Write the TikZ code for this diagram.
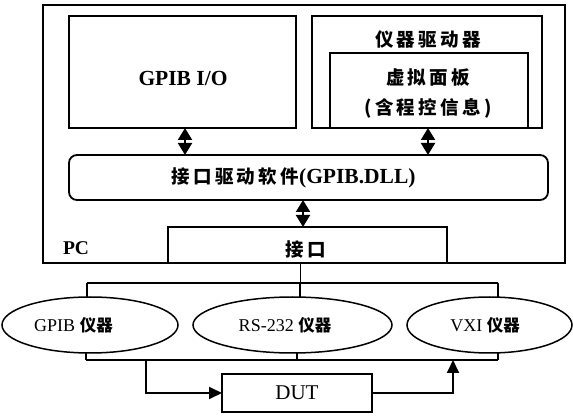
\documentclass[tikz,border=0pt]{standalone}
\usepackage{fontspec}
\setmainfont{Liberation Serif}
\newfontfamily\cjk[LetterSpace=18]{Noto Sans CJK SC}
\newfontfamily\cjks{Noto Sans CJK SC}
\usetikzlibrary{arrows.meta,shapes.geometric}
\begin{document}
\begin{tikzpicture}[x=1pt,y=-1pt,
  box/.style={draw,line width=1.8pt,inner sep=0pt,outer sep=0pt},
  ell/.style={ellipse,draw,line width=1.5pt,inner sep=0pt,outer sep=0pt,minimum height=56pt},
  txt/.style={inner sep=0pt,outer sep=0pt},
  big/.style={font=\fontsize{21.5}{21.5}\selectfont},
  mid/.style={font=\fontsize{18}{18}\selectfont},
  ctx/.style={font=\cjk\bfseries\fontsize{18.5}{18.5}\selectfont},
  dbl/.style={line width=2pt,{Triangle[length=12pt,width=14pt]}-{Triangle[length=12pt,width=14pt]}},
  wire/.style={line width=1.8pt},
  arr/.style={line width=1.8pt,-{Triangle[length=13pt,width=12pt]}}]
\useasboundingbox (0,0) rectangle (573,419);
% PC frame
\node[box,minimum width=522pt,minimum height=258pt] (pc) at (304,134) {};
\node[txt,font=\fontsize{19.5}{19.5}\selectfont] (pct) at (76,248) {\bfseries PC};
% GPIB I/O
\node[box,minimum width=227pt,minimum height=112pt] (gio) at (182.5,72) {};
\node[txt,big] (giot) at (183,78) {\bfseries GPIB I/O};
% instrument driver
\node[box,minimum width=230pt,minimum height=112pt] (drv) at (427,72) {};
\node[txt,ctx] (drvt) at (428,40) {仪器驱动器};
\node[box,minimum width=198pt,minimum height=75pt] (vp) at (429,90.5) {};
\node[txt,ctx] (vpt1) at (428,78) {虚拟面板};
\node[txt,ctx] (vpt2) at (428,108) {(含程控信息)};
% software driver
\node[box,rounded corners=8pt,minimum width=479pt,minimum height=45pt] (sw) at (308.5,177.5) {};
\node[txt,big] (swt) at (293.5,178) {{\cjk\bfseries\fontsize{18.5}{18.5}\selectfont 接口驱动软件}\bfseries(GPIB.DLL)};
% interface
\node[box,minimum width=279pt,minimum height=36pt] (intf) at (307.5,245) {};
\node[txt,ctx] (intft) at (306,250) {接口};
% double arrows
\coordinate (a1) at (185,0);
\coordinate (a2) at (428,0);
\coordinate (a3) at (303,0);
\draw[dbl] (a1 |- gio.south) -- (a1 |- sw.north);
\draw[dbl] (a2 |- vp.south) -- (a2 |- sw.north);
\draw[dbl] (a3 |- sw.south) -- (a3 |- intf.north);
% instruments
\node[ell,minimum width=176pt] (g) at (90,325) {};
\node[txt,mid] (gt) at (73.5,325) {GPIB {\cjks\bfseries\fontsize{16.5}{16.5}\selectfont 仪器}};
\node[ell,minimum width=199pt] (r) at (292.5,325) {};
\node[txt,mid] (rt) at (285,325) {RS-232 {\cjks\bfseries\fontsize{16.5}{16.5}\selectfont 仪器}};
\node[ell,minimum width=165pt] (v) at (489.5,325) {};
\node[txt,mid] (vt) at (485,325) {VXI {\cjks\bfseries\fontsize{16.5}{16.5}\selectfont 仪器}};
% upper bus
\coordinate (bl) at (87,283);
\coordinate (bt) at (300,283);
\coordinate (br) at (498,283);
\draw[line width=1pt] (bt |- intf.south) -- (bt);
\draw[wire] (bl) -- (br);
\draw[wire] (bl) -- (bl |- g.north);
\draw[wire] (bt) -- (bt |- r.north);
\draw[wire] (br) -- (br |- v.north);
% lower bus
\coordinate (ll) at (86,360);
\coordinate (lm) at (297,360);
\coordinate (lr) at (498,360);
\draw[wire] (ll) -- (lr);
\draw[wire] (ll) -- (ll |- g.south);
\draw[wire] (lm) -- (lm |- r.south);
\draw[wire] (lr) -- (lr |- v.south);
% DUT
\node[box,font=\fontsize{21}{21}\selectfont,minimum width=150pt,minimum height=38pt] (dut) at (297,393) {DUT};
\coordinate (d1) at (146,360);
\coordinate (d2) at (453,360);
\draw[arr] (d1) |- (dut.west);
\draw[arr] (dut.east) -| (d2);
\end{tikzpicture}
\end{document}
